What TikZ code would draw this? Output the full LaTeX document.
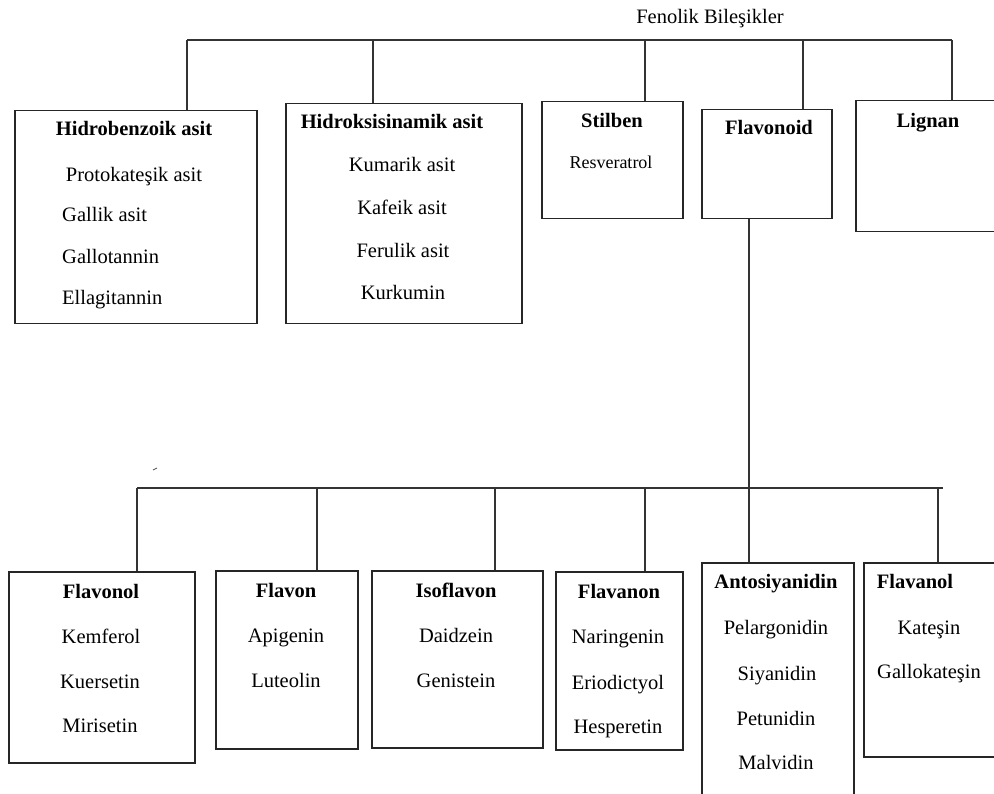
\documentclass[tikz,border=0pt]{standalone}
\usepackage{fontspec}
\setmainfont{Liberation Serif}
\tikzset{
  kutu/.style={draw=black!85, line width=1.5pt, anchor=north west, inner sep=0pt},
  baglanti/.style={draw=black!80, line width=1.3pt},
  baslik/.style={anchor=base, inner sep=0pt, font=\fontsize{20.5}{24}\selectfont\bfseries},
  madde/.style={anchor=base, inner sep=0pt, font=\fontsize{20.5}{24}\selectfont},
}
\begin{document}
\begin{tikzpicture}[x=1pt, y=-1pt]
\clip (0,0) rectangle (994,794);
\fill[white] (0,0) rectangle (994,794);
% ust kutular
\node[kutu, minimum width=242, minimum height=213] (hb) at (14,110) {};
\node[kutu, minimum width=236, minimum height=220] (hs) at (285,103) {};
\node[kutu, minimum width=141, minimum height=117] (st) at (541,101) {};
\node[kutu, minimum width=130, minimum height=109] (fd) at (701,109) {};
\node[kutu, minimum width=150, minimum height=131] (lg) at (855,100) {};
% alt kutular
\node[kutu, minimum width=186, minimum height=191] (fl) at (8,571) {};
\node[kutu, minimum width=142, minimum height=178] (fv) at (215,570) {};
\node[kutu, minimum width=171, minimum height=177] (if) at (371,570) {};
\node[kutu, minimum width=127, minimum height=178] (fn) at (555,571) {};
\node[kutu, minimum width=152, minimum height=250] (as) at (701,562) {};
\node[kutu, minimum width=150, minimum height=194] (fa) at (863,562) {};
% baslik ve metinler
\node[madde] (kok) at (710,24) {Fenolik Bileşikler};
\node[baslik] (hbt) at (134,136) {Hidrobenzoik asit};
\node[madde] (hb1) at (134,182) {Protokateşik asit};
\node[madde, anchor=base west] (hb2) at (62,222) {Gallik asit};
\node[madde, anchor=base west] (hb3) at (62,264) {Gallotannin};
\node[madde, anchor=base west] (hb4) at (62,305) {Ellagitannin};
\node[baslik] (hst) at (392,129) {Hidroksisinamik asit};
\node[madde] (hs1) at (402,172) {Kumarik asit};
\node[madde] (hs2) at (402,215) {Kafeik asit};
\node[madde] (hs3) at (403,258) {Ferulik asit};
\node[madde] (hs4) at (403,300) {Kurkumin};
\node[baslik] (stt) at (612,128) {Stilben};
\node[madde, font=\fontsize{18}{22}\selectfont] (st1) at (611,169) {Resveratrol};
\node[baslik] (fdt) at (769,135) {Flavonoid};
\node[baslik] (lgt) at (928,128) {Lignan};
\node[baslik] (flt) at (101,598) {Flavonol};
\node[madde] (fl1) at (101,643) {Kemferol};
\node[madde] (fl2) at (100,688) {Kuersetin};
\node[madde] (fl3) at (100,732) {Mirisetin};
\node[baslik] (fvt) at (286,597) {Flavon};
\node[madde] (fv1) at (286,642) {Apigenin};
\node[madde] (fv2) at (286,687) {Luteolin};
\node[baslik] (ift) at (456,597) {Isoflavon};
\node[madde] (if1) at (456,642) {Daidzein};
\node[madde] (if2) at (456,687) {Genistein};
\node[baslik] (fnt) at (619,598) {Flavanon};
\node[madde] (fn1) at (618,643) {Naringenin};
\node[madde] (fn2) at (618,689) {Eriodictyol};
\node[madde] (fn3) at (618,733) {Hesperetin};
\node[baslik] (ast) at (776,588) {Antosiyanidin};
\node[madde] (as1) at (776,634) {Pelargonidin};
\node[madde] (as2) at (777,680) {Siyanidin};
\node[madde] (as3) at (776,725) {Petunidin};
\node[madde] (as4) at (776,769) {Malvidin};
\node[baslik] (fat) at (915,588) {Flavanol};
\node[madde] (fa1) at (929,634) {Kateşin};
\node[madde] (fa2) at (929,678) {Gallokateşin};
% ust hat
\coordinate (u1) at (187,40);
\coordinate (u2) at (373,40);
\coordinate (u3) at (645,40);
\coordinate (u4) at (803,40);
\coordinate (u5) at (952,40);
\draw[baglanti] (u1) -- (u5);
\foreach \c/\k in {u1/hb,u2/hs,u3/st,u4/fd,u5/lg}{
  \draw[baglanti] (\c) -- (\c |- \k.north);
}
% alt hat
\coordinate (a1) at (137,488);
\coordinate (a2) at (317,488);
\coordinate (a3) at (495,488);
\coordinate (a4) at (645,488);
\coordinate (a5) at (749,488);
\coordinate (a6) at (938,488);
\coordinate (a7) at (943,488);
\draw[baglanti] (a1) -- (a7);
\draw[baglanti] (a5 |- fd.south) -- (a5);
\foreach \c/\k in {a1/fl,a2/fv,a3/if,a4/fn,a5/as,a6/fa}{
  \draw[baglanti] (\c) -- (\c |- \k.north);
}
\draw[line width=0.8pt, black!70] (153,470) -- (157,468);
\end{tikzpicture}
\end{document}
